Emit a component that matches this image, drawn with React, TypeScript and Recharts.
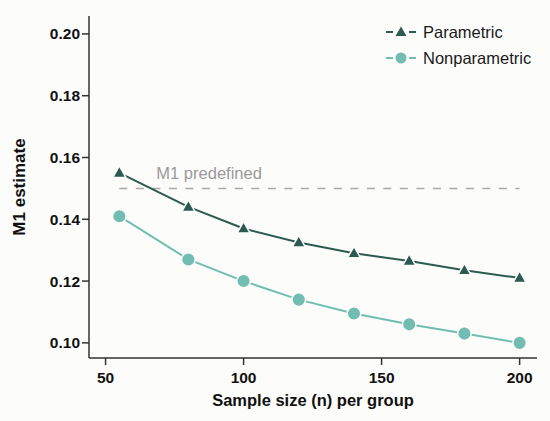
import { LineChart, Line, XAxis, YAxis, ReferenceLine, Label } from "recharts"

const sampleSizes = [55, 80, 100, 120, 140, 160, 180, 200]
const parametric = [0.155, 0.144, 0.137, 0.1325, 0.129, 0.1265, 0.1235, 0.121]
const nonparametric = [0.141, 0.127, 0.12, 0.114, 0.1095, 0.106, 0.103, 0.1]
const xTicks = [50, 100, 150, 200]
const yTicks = [0.1, 0.12, 0.14, 0.16, 0.18, 0.2]
const predefinedM1 = 0.15
const seriesNames = ["Parametric", "Nonparametric"]

const data = sampleSizes.map((n, i) => ({
  n,
  parametric: parametric[i],
  nonparametric: nonparametric[i],
}))

const DARK = "#2b5b50"
const TEAL = "#72bdb1"
const BG = "#fcfcfa"
const AXIS = "#333"
const FONT = '"Liberation Sans", Arial, sans-serif'

// triangle marker, white rim so the line looks broken around it
const TriangleDot = (props: any) => {
  const { cx, cy } = props
  if (cx == null || cy == null) return null
  return (
    <path
      d={`M${cx},${cy - 7} L${cx + 6.5},${cy + 4.5} L${cx - 6.5},${cy + 4.5} Z`}
      fill={DARK}
      stroke={BG}
      strokeWidth={1.5}
    />
  )
}

const CircleDot = (props: any) => {
  const { cx, cy } = props
  if (cx == null || cy == null) return null
  return <circle cx={cx} cy={cy} r={6.8} fill={TEAL} stroke={BG} strokeWidth={1.5} />
}

function LegendIcon({ color, shape }: { color: string; shape: string }) {
  return (
    <svg width={30} height={14} style={{ marginRight: 7 }}>
      <line x1={0} y1={7} x2={7} y2={7} stroke={color} strokeWidth={2} />
      <line x1={23} y1={7} x2={30} y2={7} stroke={color} strokeWidth={2} />
      {shape === "triangle" ? (
        <path d="M15,1.5 L20.5,11 L9.5,11 Z" fill={color} />
      ) : (
        <circle cx={15} cy={7} r={5.5} fill={color} />
      )}
    </svg>
  )
}

export default function App() {
  const legend = [
    { name: seriesNames[0], color: DARK, shape: "triangle" },
    { name: seriesNames[1], color: TEAL, shape: "circle" },
  ]
  return (
    <div
      style={{
        position: "absolute",
        left: 0,
        top: 0,
        width: 550,
        height: 421,
        background: BG,
        fontFamily: FONT,
      }}
    >
      <LineChart width={550} height={421} data={data} margin={{ top: 16, right: 13, bottom: 0, left: 9 }}>
        <XAxis
          dataKey="n"
          type="number"
          domain={[44, 206.3]}
          ticks={xTicks}
          allowDataOverflow
          height={63}
          tickSize={7}
          tickMargin={7}
          stroke={AXIS}
          strokeWidth={1.5}
          tick={{ fill: "#111", fontSize: 15.5, fontWeight: 700, fontFamily: FONT }}
        >
          <Label
            value="Sample size (n) per group"
            position="insideBottom"
            offset={15}
            fill="#111"
            fontSize={16.5}
            fontWeight={700}
            fontFamily={FONT}
          />
        </XAxis>
        <YAxis
          type="number"
          domain={[0.0951, 0.2058]}
          ticks={yTicks}
          allowDataOverflow
          width={80}
          tickSize={7}
          tickMargin={2}
          stroke={AXIS}
          strokeWidth={1.5}
          tickFormatter={(v: number) => v.toFixed(2)}
          tick={{ fill: "#111", fontSize: 15.5, fontWeight: 700, fontFamily: FONT }}
        >
          <Label
            content={(p: any) => {
              const vb = p.viewBox || {}
              const x = (vb.x ?? 9) + 10
              const y = (vb.y ?? 16) + (vb.height ?? 342) / 2
              return (
                <text
                  x={x}
                  y={y}
                  transform={`rotate(-90, ${x}, ${y})`}
                  textAnchor="middle"
                  dominantBaseline="central"
                  fill="#111"
                  fontSize={17}
                  fontWeight={700}
                  fontFamily={FONT}
                >
                  M1 estimate
                </text>
              )
            }}
          />
        </YAxis>
        <ReferenceLine
          segment={[
            { x: sampleSizes[0], y: predefinedM1 },
            { x: sampleSizes[sampleSizes.length - 1], y: predefinedM1 },
          ]}
          stroke="#a9a9a9"
          strokeWidth={1.5}
          strokeDasharray="8 8.5"
          ifOverflow="visible"
        >
          <Label
            content={(p: any) => {
              const vb = p.viewBox || {}
              return (
                <text
                  x={(vb.x ?? 120) + 37}
                  y={(vb.y ?? 190) - 9}
                  fill="#9a9a9a"
                  fontSize={16.5}
                  fontFamily={FONT}
                >
                  M1 predefined
                </text>
              )
            }}
          />
        </ReferenceLine>
        <Line
          dataKey="parametric"
          name={seriesNames[0]}
          stroke={DARK}
          strokeWidth={2}
          dot={<TriangleDot />}
          activeDot={false}
          isAnimationActive={false}
        />
        <Line
          dataKey="nonparametric"
          name={seriesNames[1]}
          stroke={TEAL}
          strokeWidth={2}
          dot={<CircleDot />}
          activeDot={false}
          isAnimationActive={false}
        />
      </LineChart>
      <div
        style={{
          position: "absolute",
          left: 386,
          top: 19,
          fontSize: 16.5,
          lineHeight: "26px",
          color: "#1a1a1a",
        }}
      >
        {legend.map((item) => (
          <div key={item.name} style={{ display: "flex", alignItems: "center", height: 26 }}>
            <LegendIcon color={item.color} shape={item.shape} />
            <span>{item.name}</span>
          </div>
        ))}
      </div>
    </div>
  )
}
